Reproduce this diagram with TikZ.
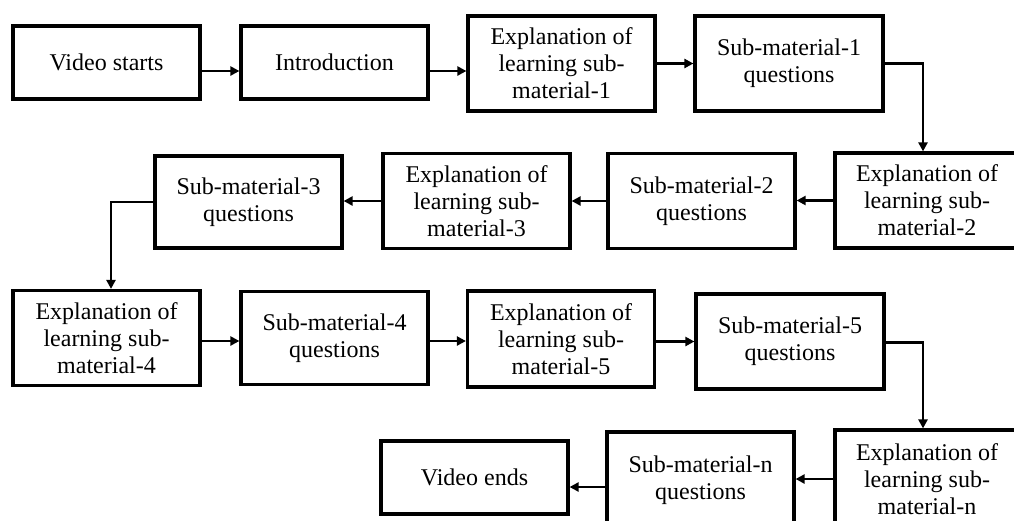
\documentclass[tikz,border=0pt]{standalone}
\usepackage{fontspec}
\setmainfont{Liberation Serif}
\usetikzlibrary{arrows.meta}
\newcommand{\boxfont}{\fontsize{24}{27}\selectfont}
\begin{document}
\begin{tikzpicture}[x=1pt,y=-1pt,
  box/.style={draw, line width=3.2pt, minimum width=187pt, minimum height=95pt,
    inner sep=0pt, align=center, font=\boxfont},
  arr/.style={line width=2.8pt, -{Triangle[length=9pt,width=9pt]}}]
\useasboundingbox (0,0) rectangle (1014,520);
\clip (0,0) rectangle (1014,520);
% row 1
\node[box, minimum height=73pt] (vs) at (106.5,62.5) {Video starts};
\node[box, minimum height=73pt] (intro) at (334.5,62.5) {Introduction};
\node[box] (e1) at (561.5,63.5) {Explanation of\\learning sub-\\material-1};
\node[box, minimum width=188pt] (s1) at (789,63.5) {Sub-material-1\\questions};
% row 2
\node[box, minimum width=184pt] (e2) at (927,200.5) {Explanation of\\learning sub-\\material-2};
\node[box] (s2) at (701.5,201) {Sub-material-2\\questions};
\node[box] (e3) at (476.5,201) {Explanation of\\learning sub-\\material-3};
\node[box, minimum height=92pt] (s3) at (248.5,202) {Sub-material-3\\questions};
% row 3
\node[box] (e4) at (106.5,338) {Explanation of\\learning sub-\\material-4};
\node[box, minimum height=93pt] (s4) at (334.5,338) {Sub-material-4\\questions};
\node[box, minimum height=96pt] (e5) at (561,339) {Explanation of\\learning sub-\\material-5};
\node[box, minimum width=188pt] (s5) at (790,341.5) {Sub-material-5\\questions};
% row 4
\node[box, minimum width=184pt, minimum height=98pt] (en) at (927,479) {Explanation of\\learning sub-\\material-n};
\node[box, minimum height=96pt] (sn) at (700.5,480) {Sub-material-n\\questions};
\node[box, minimum height=73pt] (ve) at (474.5,477.5) {Video ends};
% connectors
\coordinate (a1) at ([yshift=-8.5pt]vs.east);
\draw[arr] (a1) -- (a1 -| intro.west);
\coordinate (a2) at ([yshift=-8.5pt]intro.east);
\draw[arr] (a2) -- (a2 -| e1.west);
\draw[arr] (e1.east) -- (e1.east -| s1.west);
\draw[arr] (s1.east) -| ([xshift=-4pt]e2.north);
\draw[arr] (e2.west) -- (e2.west -| s2.east);
\draw[arr] (s2.west) -- (s2.west -| e3.east);
\draw[arr] (e3.west) -- (e3.west -| s3.east);
\draw[arr] (s3.west) -| ([xshift=4.5pt]e4.north);
\coordinate (a3) at ([yshift=-3pt]e4.east);
\draw[arr] (a3) -- (a3 -| s4.west);
\coordinate (a4) at ([yshift=-3pt]s4.east);
\draw[arr] (a4) -- (a4 -| e5.west);
\coordinate (a5) at ([yshift=-2.5pt]e5.east);
\draw[arr] (a5) -- (a5 -| s5.west);
\coordinate (a6) at ([yshift=-1pt]s5.east);
\draw[arr] (a6) -| ([xshift=-4pt]en.north);
\draw[arr] (en.west) -- (en.west -| sn.east);
\coordinate (a7) at ([yshift=-7pt]sn.west);
\draw[arr] (a7) -- (a7 -| ve.east);
\end{tikzpicture}
\end{document}
